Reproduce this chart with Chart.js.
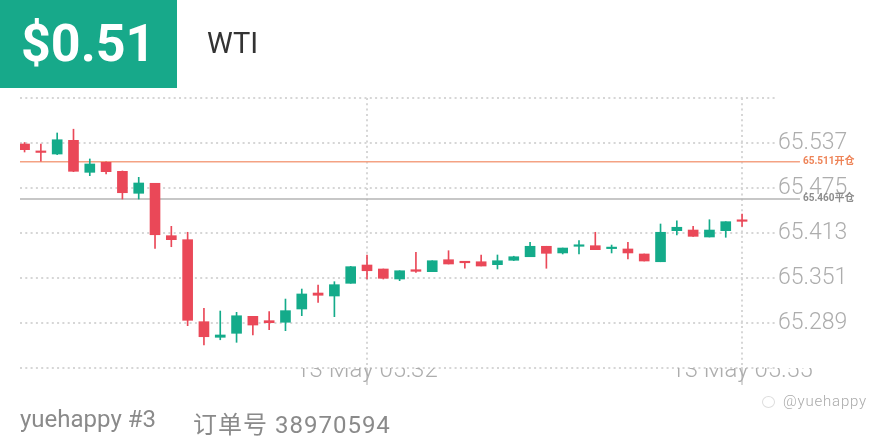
<!DOCTYPE html>
<html>
<head>
<meta charset="utf-8">
<script src="https://cdn.jsdelivr.net/npm/chart.js@4/dist/chart.umd.min.js"></script>
<style>
  html, body { margin: 0; padding: 0; background: #fff; }
  #wrap { position: relative; width: 880px; height: 440px; overflow: hidden; }
  #chart { position: absolute; left: 0; top: 0; }
  .badge {
    position: absolute; left: 0; top: 0; width: 177px; height: 88px;
    background: #17a98a; color: #fff;
    font: bold 52px "Roboto", "DejaVu Sans", sans-serif;
    line-height: 88px; padding-left: 21px; box-sizing: border-box;
  }
  .symbol {
    position: absolute; left: 207px; top: 26px;
    font: 400 29px "Roboto", sans-serif; color: #333;
  }
  .footer {
    position: absolute; top: 405px;
    font: 400 24px "Roboto", "Noto Sans CJK SC", sans-serif; color: #8a8a8a;
    white-space: pre;
  }
  .mark {
    position: absolute; left: 783px; top: 392px;
    font: 300 15px "Roboto", sans-serif; color: #aaa; letter-spacing: 0.8px;
  }
  .mark-icon {
    position: absolute; left: 762px; top: 396px; width: 11px; height: 10px;
    border: 1.5px solid #ddd; border-radius: 50%;
  }
</style>
</head>
<body>
<div id="wrap">
  <canvas id="chart" width="880" height="440"></canvas>
  <div class="badge">$0.51</div>
  <div class="symbol">WTI</div>
  <div class="footer" style="left: 20px;">yuehappy #3</div>
  <div class="footer" style="left: 193px; letter-spacing: 1px;">订单号 38970594</div>
  <div class="mark-icon"></div>
  <div class="mark">@yuehappy</div>
</div>
<script>
// one candle per minute, 05:11 -> 05:55
const times = ['05:11', '05:12', '05:13', '05:14', '05:15', '05:16', '05:17', '05:18', '05:19', '05:20',
  '05:21', '05:22', '05:23', '05:24', '05:25', '05:26', '05:27', '05:28', '05:29', '05:30',
  '05:31', '05:32', '05:33', '05:34', '05:35', '05:36', '05:37', '05:38', '05:39', '05:40',
  '05:41', '05:42', '05:43', '05:44', '05:45', '05:46', '05:47', '05:48', '05:49', '05:50',
  '05:51', '05:52', '05:53', '05:54', '05:55'];

const opens = [65.5356, 65.5245, 65.5218, 65.5407, 65.4966, 65.5104, 65.4980, 65.4677, 65.4815, 65.4093,
  65.4038, 65.2908, 65.2693, 65.2748, 65.2982, 65.2922, 65.2900, 65.3083, 65.3303, 65.3262,
  65.3437, 65.3689, 65.3634, 65.3496, 65.3624, 65.3597, 65.3762, 65.3734, 65.3734, 65.3694,
  65.3754, 65.3803, 65.3947, 65.3855, 65.3947, 65.3955, 65.3915, 65.3910, 65.3841, 65.3734,
  65.4162, 65.4171, 65.4075, 65.4162, 65.4299];
const highs = [65.5377, 65.5356, 65.5508, 65.5560, 65.5150, 65.5110, 65.4985, 65.4897, 65.4815, 65.4222,
  65.4140, 65.3092, 65.3055, 65.3037, 65.2982, 65.3046, 65.3220, 65.3358, 65.3414, 65.3459,
  65.3670, 65.3827, 65.3634, 65.3610, 65.3864, 65.3748, 65.3886, 65.3741, 65.3827, 65.3827,
  65.3810, 65.4002, 65.3947, 65.3923, 65.4024, 65.4140, 65.3964, 65.4002, 65.3841, 65.4254,
  65.4299, 65.4222, 65.4313, 65.4286, 65.4392];
const lows = [65.5246, 65.5118, 65.5210, 65.4975, 65.4920, 65.4943, 65.4598, 65.4598, 65.3919, 65.3941,
  65.2853, 65.2587, 65.2659, 65.2624, 65.2725, 65.2798, 65.2784, 65.2991, 65.3175, 65.2977,
  65.3437, 65.3496, 65.3496, 65.3473, 65.3588, 65.3597, 65.3703, 65.3644, 65.3675, 65.3634,
  65.3750, 65.3803, 65.3644, 65.3841, 65.3841, 65.3900, 65.3855, 65.3772, 65.3744, 65.3734,
  65.4103, 65.4084, 65.4075, 65.4071, 65.4222];
const closes = [65.5278, 65.5240, 65.5415, 65.4980, 65.5081, 65.4975, 65.4685, 65.4819, 65.4106, 65.4038,
  65.2927, 65.2701, 65.2725, 65.2990, 65.2862, 65.2894, 65.3060, 65.3290, 65.3272, 65.3418,
  65.3666, 65.3610, 65.3506, 65.3610, 65.3602, 65.3748, 65.3703, 65.3720, 65.3675, 65.3748,
  65.3803, 65.3947, 65.3850, 65.3923, 65.3955, 65.3900, 65.3919, 65.3855, 65.3744, 65.4140,
  65.4209, 65.4084, 65.4171, 65.4286, 65.4291];

// price axis ticks (first and last carry no label)
const yTicks = [65.227, 65.289, 65.351, 65.413, 65.475, 65.537, 65.599];
// time axis ticks, as candle index
const xTicks = [21, 44];

// open / close reference lines
const refLines = [
  { value: 65.511, label: '65.511开仓', color: '#f4a283', text: '#ee8458' },
  { value: 65.460, label: '65.460平仓', color: '#b4b4b4', text: '#8c8c8c' }
];

const UP = '#14ab8a';
const DOWN = '#ea4858';
const X_MIN = -0.28;
const X_MAX = 46.02;
const REF_END = 47.55;

const colors = opens.map((o, i) => closes[i] >= o ? UP : DOWN);
const bodies = opens.map((o, i) => ({ x: i, y: [o, closes[i]] }));
const wicks = lows.map((l, i) => ({ x: i, y: [l, highs[i]] }));

const refDatasets = refLines.map(r => ({
  type: 'line',
  data: [{ x: X_MIN, y: r.value }, { x: REF_END, y: r.value }],
  borderColor: r.color,
  borderWidth: 1.5,
  pointRadius: 0,
  clip: false,
  order: 3
}));

// small text at the right end of the reference lines
const refLabels = {
  id: 'refLabels',
  afterDatasetsDraw(chart) {
    const { ctx, scales } = chart;
    ctx.save();
    ctx.font = 'bold 10px "Roboto", "Noto Sans CJK SC", sans-serif';
    ctx.textBaseline = 'middle';
    ctx.textAlign = 'left';
    refLines.forEach(r => {
      ctx.fillStyle = r.text;
      ctx.fillText(r.label, scales.x.getPixelForValue(REF_END) + 3, scales.y.getPixelForValue(r.value));
    });
    ctx.restore();
  }
};

const dotted = { color: '#d6d6d6', lineWidth: 2 };

new Chart(document.getElementById('chart'), {
  type: 'bar',
  data: {
    datasets: [
      ...refDatasets,
      {
        data: wicks,
        backgroundColor: colors,
        barThickness: 1,
        grouped: false,
        order: 2
      },
      {
        data: bodies,
        backgroundColor: colors,
        barThickness: 10,
        minBarLength: 1.5,
        grouped: false,
        order: 1
      }
    ]
  },
  options: {
    responsive: false,
    animation: false,
    layout: { padding: { top: 98, left: 20, right: 0, bottom: 0 } },
    plugins: { legend: { display: false }, tooltip: { enabled: false } },
    scales: {
      x: {
        type: 'linear',
        offset: false,
        min: X_MIN,
        max: X_MAX,
        afterBuildTicks: scale => { scale.ticks = xTicks.map(v => ({ value: v })); },
        afterFit: scale => { scale.height = 72; },
        border: { display: false, dash: [2, 3.3] },
        grid: { ...dotted, offset: false, drawTicks: true, tickLength: 17, tickColor: '#d6d6d6' },
        ticks: {
          padding: -28,
          maxRotation: 0,
          color: '#adadad',
          font: { family: 'Roboto', weight: 300, size: 24 },
          callback: v => '13 May ' + times[v]
        }
      },
      y: {
        position: 'right',
        min: yTicks[0],
        max: yTicks[yTicks.length - 1],
        afterBuildTicks: scale => { scale.ticks = yTicks.map(v => ({ value: v })); },
        afterFit: scale => { scale.width = 105; },
        border: { display: false, dash: [2, 3.3] },
        grid: { ...dotted, drawTicks: false },
        ticks: {
          padding: 3,
          color: '#adadad',
          font: { family: 'Roboto', weight: 300, size: 23 },
          callback: (v, i) => (i === 0 || i === yTicks.length - 1) ? '' : v.toFixed(3)
        }
      }
    }
  },
  plugins: [refLabels]
});
</script>
</body>
</html>
